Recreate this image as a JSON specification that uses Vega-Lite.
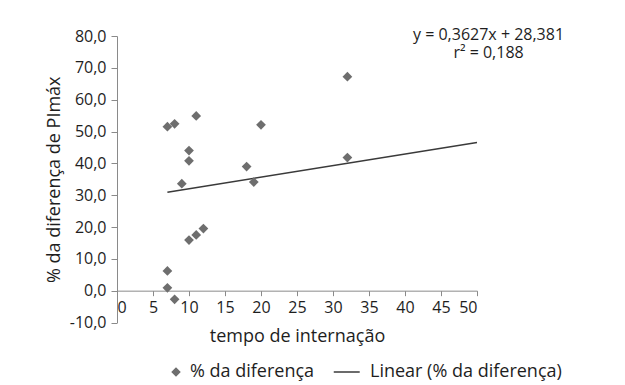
{
  "$schema": "https://vega.github.io/schema/vega-lite/v6.json",
  "width": 360,
  "height": 286.5,
  "autosize": {"type": "none"},
  "padding": {"left": 117, "top": 36, "right": 148, "bottom": 62.5},
  "background": "white",
  "config": {
    "view": {"stroke": null},
    "font": "Open Sans",
    "locale": {"number": {"decimal": ",", "thousands": ".", "grouping": [3], "currency": ["", ""], "minus": "-"}},
    "axis": {
      "grid": false,
      "labelOverlap": false,
      "labelBound": false,
      "domainColor": "#8a8a8a",
      "tickColor": "#8a8a8a",
      "labelColor": "#1e1e1e",
      "titleColor": "#1e1e1e",
      "labelFont": "Open Sans",
      "titleFont": "Open Sans",
      "labelFontSize": 16,
      "titleFontSize": 18,
      "titleFontWeight": "normal"
    }
  },
  "datasets": {
    "pontos": [
      {"tempo": 7, "dif": 51.5, "serie": "% da diferença"},
      {"tempo": 8, "dif": 52.4, "serie": "% da diferença"},
      {"tempo": 11, "dif": 54.9, "serie": "% da diferença"},
      {"tempo": 20, "dif": 52.1, "serie": "% da diferença"},
      {"tempo": 32, "dif": 67.2, "serie": "% da diferença"},
      {"tempo": 10, "dif": 44.0, "serie": "% da diferença"},
      {"tempo": 10, "dif": 40.8, "serie": "% da diferença"},
      {"tempo": 18, "dif": 39.0, "serie": "% da diferença"},
      {"tempo": 32, "dif": 41.8, "serie": "% da diferença"},
      {"tempo": 9, "dif": 33.6, "serie": "% da diferença"},
      {"tempo": 19, "dif": 34.1, "serie": "% da diferença"},
      {"tempo": 10, "dif": 15.9, "serie": "% da diferença"},
      {"tempo": 11, "dif": 17.5, "serie": "% da diferença"},
      {"tempo": 12, "dif": 19.5, "serie": "% da diferença"},
      {"tempo": 7, "dif": 6.2, "serie": "% da diferença"},
      {"tempo": 7, "dif": 0.9, "serie": "% da diferença"},
      {"tempo": 8, "dif": -2.7, "serie": "% da diferença"}
    ],
    "tendencia": [
      {"tempo": 7, "dif": 30.92, "serie": "Linear (% da diferença)"},
      {"tempo": 50, "dif": 46.52, "serie": "Linear (% da diferença)"}
    ],
    "equacao": [
      {"tempo": 51.6, "dif": 80.4, "texto": "y = 0,3627x + 28,381"},
      {"tempo": 51.6, "dif": 74.8, "texto": "r² = 0,188"}
    ]
  },
  "encoding": {
    "x": {
      "field": "tempo", "type": "quantitative",
      "scale": {"domain": [0, 50], "nice": false, "zero": false},
      "axis": {
        "values": [0, 5, 10, 15, 20, 25, 30, 35, 40, 45, 50],
        "labelOverlap": false,
        "offset": -31.83,
        "tickSize": 5,
        "labelPadding": 4,
        "title": "tempo de internação",
        "titlePadding": 12
      }
    },
    "y": {
      "field": "dif", "type": "quantitative",
      "scale": {"domain": [-10, 80], "nice": false, "zero": false},
      "axis": {
        "values": [-10, 0, 10, 20, 30, 40, 50, 60, 70, 80],
        "labelOverlap": false,
        "format": ".1f",
        "tickSize": 6,
        "labelPadding": 5,
        "title": "% da diferença de PImáx",
        "titlePadding": 6
      }
    }
  },
  "layer": [
    {
      "data": {"name": "tendencia"},
      "mark": {"type": "line", "strokeWidth": 1.5},
      "encoding": {
        "color": {"field": "serie", "type": "nominal"}
      }
    },
    {
      "data": {"name": "pontos"},
      "mark": {"type": "point", "filled": true, "opacity": 1, "size": 95},
      "encoding": {
        "color": {
          "field": "serie", "type": "nominal",
          "scale": {"domain": ["% da diferença", "Linear (% da diferença)"], "range": ["#6e6e6e", "#3a3a3a"]},
          "legend": {
            "orient": "none",
            "legendX": 50,
            "legendY": 327,
            "direction": "horizontal",
            "title": null,
            "labelFontSize": 18,
            "labelFont": "Open Sans",
            "labelColor": "#1e1e1e",
            "labelOffset": 5,
            "labelLimit": 400,
            "symbolSize": 55,
            "columnPadding": 15,
            "encode": {
              "symbols": {
                "update": {
                  "stroke": {"signal": "datum.value === 'Linear (% da diferença)' ? '#3a3a3a' : 'transparent'"},
                  "strokeWidth": {"value": 1.5}
                }
              }
            }
          }
        },
        "shape": {
          "field": "serie", "type": "nominal",
          "scale": {"domain": ["% da diferença", "Linear (% da diferença)"], "range": ["diamond", "M-6,0H1"]}
        }
      }
    },
    {
      "data": {"name": "equacao"},
      "mark": {"type": "text", "fontSize": 16, "font": "Open Sans", "color": "#1e1e1e", "align": "center", "baseline": "middle"},
      "encoding": {
        "text": {"field": "texto", "type": "nominal"}
      }
    }
  ]
}
